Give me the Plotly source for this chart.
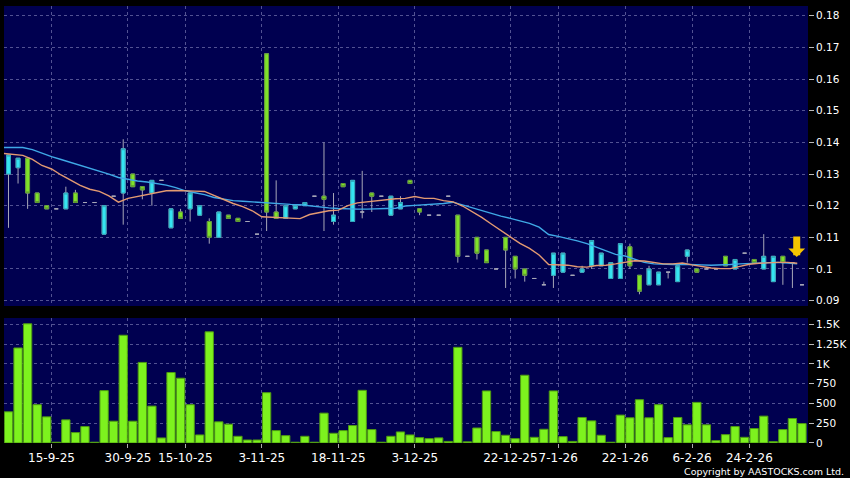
import plotly.graph_objects as go

# ---- data ----
opens = [0.130, 0.132, 0.135, 0.124, 0.120, 0.119, 0.119, 0.124, 0.121, 0.121,
         0.111, 0.123, 0.124, 0.130, 0.126, 0.124, 0.128, 0.113, 0.118, 0.119,
         0.117, 0.115, 0.110, 0.117, 0.116, 0.115, 0.111, 0.168, 0.118, 0.116,
         0.119, 0.120, 0.123, 0.123, 0.115, 0.127, 0.115, 0.118, 0.124, 0.123,
         0.117, 0.119, 0.128, 0.119, 0.117, 0.117, 0.123, 0.117, 0.104, 0.110,
         0.106, 0.100, 0.110, 0.104, 0.100, 0.097, 0.095, 0.098, 0.099, 0.098,
         0.099, 0.101, 0.101, 0.097, 0.097, 0.107, 0.098, 0.095, 0.095, 0.099,
         0.096, 0.104, 0.100, 0.100, 0.100, 0.104, 0.100, 0.105, 0.103, 0.100,
         0.096, 0.104, 0.102, 0.095]
highs = [0.136, 0.135, 0.135, 0.124, 0.120, 0.119, 0.126, 0.125, 0.121, 0.121,
         0.120, 0.123, 0.141, 0.130, 0.126, 0.128, 0.128, 0.119, 0.119, 0.124,
         0.120, 0.116, 0.118, 0.117, 0.116, 0.115, 0.111, 0.168, 0.128, 0.120,
         0.120, 0.121, 0.123, 0.140, 0.124, 0.127, 0.128, 0.131, 0.124, 0.123,
         0.123, 0.123, 0.128, 0.119, 0.117, 0.117, 0.123, 0.117, 0.104, 0.110,
         0.106, 0.100, 0.110, 0.104, 0.100, 0.097, 0.096, 0.105, 0.105, 0.098,
         0.101, 0.109, 0.105, 0.102, 0.108, 0.108, 0.098, 0.101, 0.099, 0.099,
         0.101, 0.106, 0.100, 0.100, 0.100, 0.104, 0.103, 0.105, 0.103, 0.111,
         0.104, 0.104, 0.102, 0.095]
lows = [0.113, 0.127, 0.119, 0.121, 0.119, 0.119, 0.119, 0.121, 0.121, 0.121,
        0.111, 0.123, 0.114, 0.126, 0.122, 0.120, 0.128, 0.113, 0.116, 0.115,
        0.117, 0.108, 0.110, 0.116, 0.115, 0.115, 0.111, 0.112, 0.116, 0.116,
        0.119, 0.120, 0.123, 0.112, 0.114, 0.126, 0.115, 0.116, 0.118, 0.123,
        0.117, 0.119, 0.127, 0.117, 0.117, 0.117, 0.123, 0.102, 0.104, 0.103,
        0.102, 0.100, 0.094, 0.097, 0.096, 0.097, 0.095, 0.094, 0.099, 0.098,
        0.099, 0.100, 0.101, 0.097, 0.097, 0.100, 0.092, 0.095, 0.095, 0.097,
        0.096, 0.102, 0.099, 0.100, 0.100, 0.101, 0.100, 0.105, 0.102, 0.100,
        0.096, 0.095, 0.094, 0.095]
closes = [0.136, 0.135, 0.124, 0.121, 0.119, 0.119, 0.124, 0.121, 0.121, 0.121,
          0.120, 0.123, 0.138, 0.126, 0.125, 0.128, 0.128, 0.119, 0.116, 0.124,
          0.120, 0.110, 0.118, 0.116, 0.115, 0.115, 0.111, 0.118, 0.116, 0.120,
          0.120, 0.121, 0.123, 0.122, 0.117, 0.126, 0.128, 0.118, 0.123, 0.123,
          0.123, 0.121, 0.127, 0.118, 0.117, 0.117, 0.123, 0.104, 0.104, 0.105,
          0.102, 0.100, 0.106, 0.100, 0.098, 0.097, 0.095, 0.105, 0.105, 0.098,
          0.100, 0.109, 0.105, 0.102, 0.108, 0.101, 0.093, 0.100, 0.099, 0.099,
          0.101, 0.106, 0.099, 0.100, 0.100, 0.101, 0.103, 0.105, 0.102, 0.104,
          0.104, 0.102, 0.102, 0.095]
volume = [395, 1203, 1509, 485, 331, 10, 293, 132, 208, 10,
          663, 276, 1364, 276, 1020, 467, 64, 892, 820, 485,
          102, 1407, 268, 238, 85, 38, 38, 637, 157, 93,
          10, 85, 10, 378, 123, 157, 221, 667, 170, 10,
          85, 140, 102, 68, 55, 65, 20, 1211, 15, 190,
          659, 145, 98, 55, 858, 72, 174, 659, 81, 20,
          323, 280, 98, 10, 353, 319, 548, 319, 485, 68,
          323, 230, 514, 230, 30, 106, 208, 72, 183, 340,
          17, 170, 310, 246]
ma_short = [0.1365, 0.1363, 0.1359, 0.1346, 0.1327, 0.1316, 0.1297, 0.1281, 0.1264, 0.1252,
            0.1245, 0.1231, 0.1211, 0.1223, 0.1229, 0.1237, 0.1243, 0.1247, 0.1248, 0.1246,
            0.1246, 0.1245, 0.1232, 0.1218, 0.1207, 0.1197, 0.1184, 0.1165, 0.1164, 0.1162,
            0.1160, 0.1159, 0.1172, 0.1179, 0.1184, 0.1186, 0.1200, 0.1209, 0.1212, 0.1216,
            0.1220, 0.1222, 0.1223, 0.1229, 0.1223, 0.1223, 0.1216, 0.1212, 0.1199, 0.1181,
            0.1163, 0.1142, 0.1121, 0.1100, 0.1081, 0.1065, 0.1044, 0.1014, 0.1013, 0.1012,
            0.1007, 0.1006, 0.1011, 0.1012, 0.1016, 0.1022, 0.1026, 0.1025, 0.1020, 0.1016,
            0.1016, 0.1019, 0.1013, 0.1007, 0.1003, 0.1001, 0.1001, 0.1008, 0.1015, 0.1018,
            0.1020, 0.1021, 0.1021, 0.1018]
ma_long = [0.1384, 0.1384, 0.1384, 0.1377, 0.1365, 0.1355, 0.1346, 0.1337, 0.1327, 0.1318,
           0.1308, 0.1300, 0.1289, 0.1283, 0.1278, 0.1275, 0.1271, 0.1265, 0.1257, 0.1247,
           0.1241, 0.1235, 0.1226, 0.1220, 0.1216, 0.1214, 0.1212, 0.1208, 0.1206, 0.1204,
           0.1204, 0.1203, 0.1199, 0.1195, 0.1193, 0.1191, 0.1189, 0.1189, 0.1189, 0.1189,
           0.1191, 0.1192, 0.1199, 0.1201, 0.1203, 0.1204, 0.1207, 0.1211, 0.1202, 0.1193,
           0.1185, 0.1177, 0.1167, 0.1160, 0.1153, 0.1144, 0.1132, 0.1109, 0.1103, 0.1097,
           0.1089, 0.1080, 0.1068, 0.1057, 0.1046, 0.1041, 0.1031, 0.1021, 0.1016, 0.1014,
           0.1014, 0.1015, 0.1015, 0.1013, 0.1012, 0.1012, 0.1014, 0.1016, 0.1018, 0.1018,
           0.1020, 0.1021, 0.1019, 0.1016]
date_labels = ["15-9-25", "30-9-25", "15-10-25", "3-11-25", "18-11-25", "3-12-25",
               "22-12-25", "7-1-26", "22-1-26", "6-2-26", "24-2-26"]
date_label_bars = [5, 13, 19, 27, 35, 43, 53, 58, 65, 72, 78]
price_ticks = [0.09, 0.10, 0.11, 0.12, 0.13, 0.14, 0.15, 0.16, 0.17, 0.18]
price_tick_text = ["0.09", "0.1", "0.11", "0.12", "0.13", "0.14", "0.15", "0.16", "0.17", "0.18"]
vol_ticks = [0, 250, 500, 750, 1000, 1250, 1500]
vol_tick_text = ["0", "250", "500", "750", "1K", "1.25K", "1.5K"]

# ---- derived ----
n = len(closes)
xs = list(range(n))
ma_x = [i - 0.5 for i in xs]
body_idx = [i for i in xs if opens[i] != closes[i]]

BG = "#000050"
GRID = "rgba(150,150,200,0.55)"
WICK = "#A8A8B8"
FONT = "DejaVu Sans"

fig = go.Figure()

# wicks and doji dashes (grey)
fig.add_trace(go.Candlestick(
    x=xs, open=opens, high=highs, low=lows, close=closes,
    increasing=dict(line=dict(color=WICK, width=1), fillcolor=WICK),
    decreasing=dict(line=dict(color=WICK, width=1), fillcolor=WICK),
    whiskerwidth=0, xaxis="x", yaxis="y", showlegend=False, hoverinfo="skip"))

# coloured bodies
fig.add_trace(go.Candlestick(
    x=body_idx,
    open=[opens[i] for i in body_idx],
    high=[max(opens[i], closes[i]) for i in body_idx],
    low=[min(opens[i], closes[i]) for i in body_idx],
    close=[closes[i] for i in body_idx],
    increasing=dict(line=dict(color="#2FA6BA", width=1), fillcolor="#35E4F2"),
    decreasing=dict(line=dict(color="#5E9A30", width=1), fillcolor="#7FE22A"),
    whiskerwidth=0, xaxis="x", yaxis="y", showlegend=False))

fig.add_trace(go.Scatter(x=ma_x, y=ma_long, mode="lines",
                         line=dict(color="#3FA9E6", width=1.4),
                         xaxis="x", yaxis="y", showlegend=False))
fig.add_trace(go.Scatter(x=ma_x, y=ma_short, mode="lines",
                         line=dict(color="#E39A72", width=1.4),
                         xaxis="x", yaxis="y", showlegend=False))

fig.add_trace(go.Bar(x=xs, y=volume, width=0.87,
                     marker=dict(color="#7DF21E", line=dict(color="#4E9A12", width=1)),
                     xaxis="x2", yaxis="y2", showlegend=False))

grid_vals = [b - 0.5 for b in date_label_bars]
xr = [-0.47, n - 0.37]

axis_common = dict(showline=False, zeroline=False, gridcolor=GRID, griddash="3px,3px",
                   gridwidth=1, automargin=False)

fig.update_layout(
    width=850, height=478,
    paper_bgcolor="#000000", plot_bgcolor=BG,
    margin=dict(l=4, r=42, t=6, b=35, autoexpand=False),
    font=dict(family=FONT, color="#FFFFFF"),
    boxgap=0.42,
    showlegend=False,
    xaxis=dict(domain=[0, 1], range=xr, anchor="y", tickvals=grid_vals,
               showticklabels=False, ticks="", rangeslider=dict(visible=False),
               **axis_common),
    xaxis2=dict(domain=[0, 1], range=xr, anchor="y2", matches="x", tickvals=grid_vals,
                ticktext=date_labels, ticks="outside", ticklen=4, tickcolor="#AAAAAA",
                tickangle=0,
                tickfont=dict(size=12, color="#FFFFFF"), rangeslider=dict(visible=False),
                **axis_common),
    yaxis=dict(domain=[0.3135, 1], range=[0.0883, 0.1831], side="right", anchor="x",
               tickvals=price_ticks, ticktext=price_tick_text, ticks="outside",
               ticklen=5, tickcolor="#BBBBBB", tickfont=dict(size=10.5, color="#FFFFFF"),
               **axis_common),
    yaxis2=dict(domain=[0, 0.286], range=[0, 1582], side="right", anchor="x2",
                tickvals=vol_ticks, ticktext=vol_tick_text, ticks="outside",
                ticklen=5, tickcolor="#BBBBBB", tickfont=dict(size=10.5, color="#FFFFFF"),
                **axis_common),
)

# yellow marker arrow over the latest session
fig.add_annotation(x=n - 1.55, y=closes[-2] + 0.0018, xref="x", yref="y",
                   text="", showarrow=True, ax=0, ay=-22,
                   arrowhead=1, arrowsize=0.4, arrowwidth=7, arrowcolor="#F6C400")

fig.add_annotation(text="Copyright by AASTOCKS.com Ltd.", xref="paper", yref="paper",
                   x=1.0473, y=-0.0657, xanchor="right", yanchor="middle",
                   showarrow=False, font=dict(size=9.5, color="#FFFFFF", family=FONT))

fig.write_html("out.html", config={"displayModeBar": False},
               post_script="document.body.style.margin='0px';document.body.style.overflow='hidden';")
